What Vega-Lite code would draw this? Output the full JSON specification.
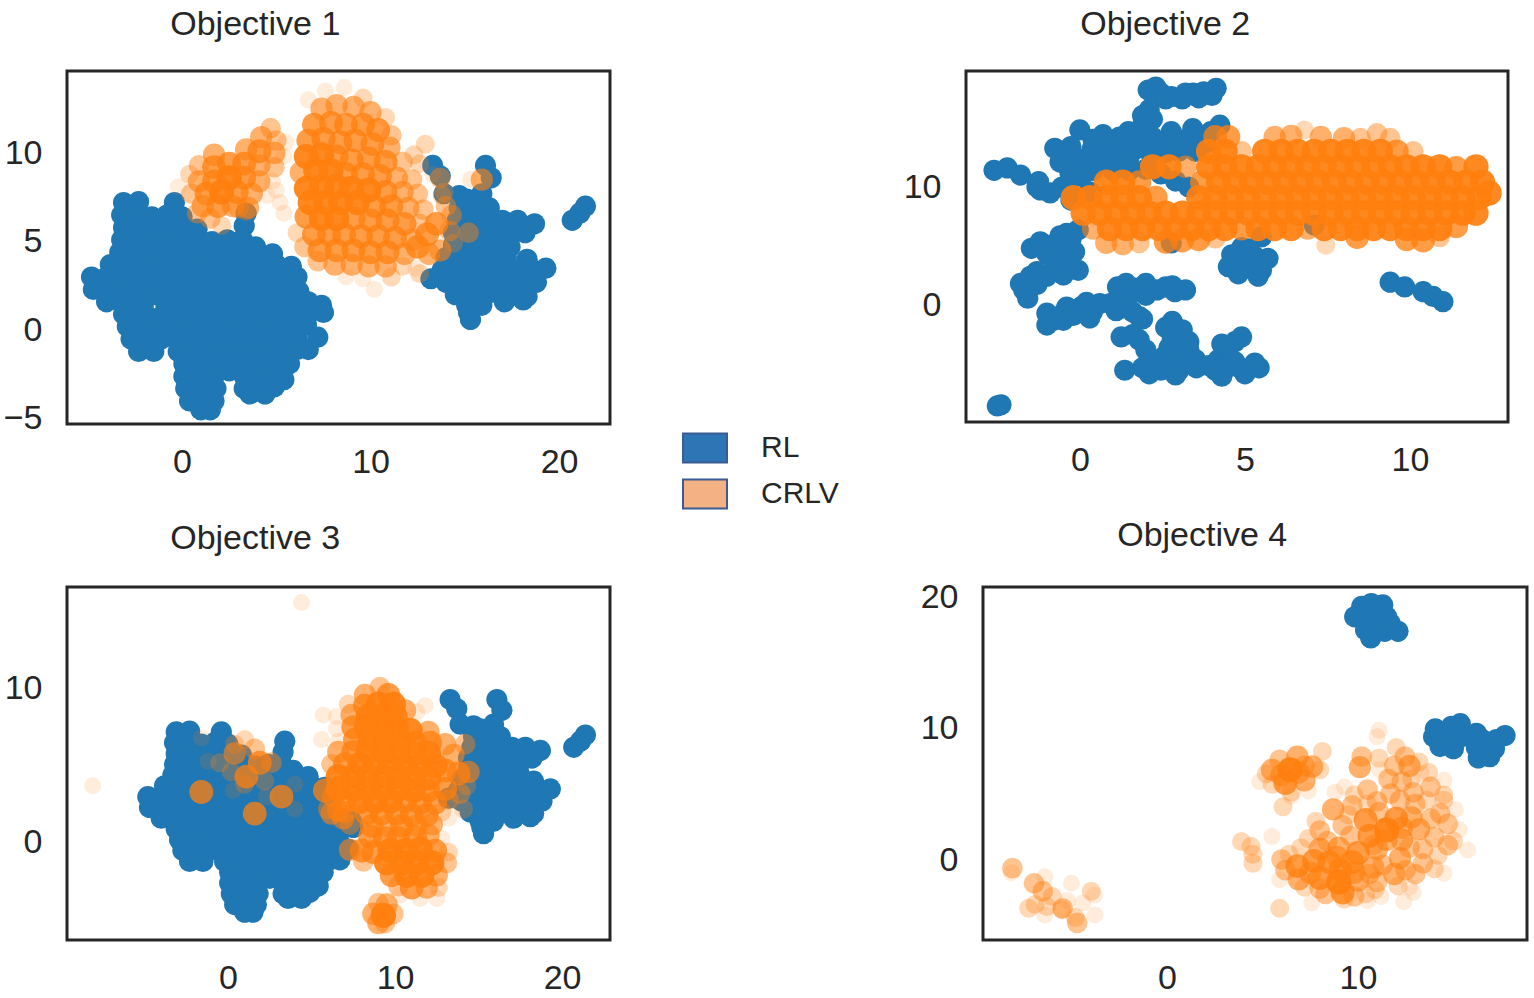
{"$schema":"https://vega.github.io/schema/vega-lite/v6.json","background":"white","padding":{"left":1,"top":6,"right":5,"bottom":5},"bounds":"flush","spacing":516,"config":{"view":{"stroke":"#262626","strokeWidth":3},"font":"Liberation Sans","axis":{"ticks":false,"domain":false,"grid":false,"title":null,"labelFont":"Liberation Sans","labelFontSize":34,"labelColor":"#262626","labelOverlap":false,"labelBound":false,"labelFlush":false},"axisX":{"labelPadding":21},"axisY":{"labelPadding":25},"title":{"font":"Liberation Sans","fontSize":34,"fontWeight":"normal","color":"#262626","anchor":"start","offset":29,"frame":"bounds"},"legend":{"labelFont":"Liberation Sans"}},
"datasets":{
"methods":[{"method":"RL"},{"method":"CRLV"}],
"blueA":[{"x":-3.1,"y":7.2},{"x":-2.3,"y":7.25},{"x":-0.4,"y":7.2},{"x":-3.2,"y":6.5},{"x":-2.4,"y":6.5},{"x":-1.6,"y":6.4},{"x":-0.8,"y":6.5},{"x":0,"y":6.4},{"x":3.4,"y":6.6},{"x":-3.1,"y":5.8},{"x":-2.3,"y":5.8},{"x":-1.5,"y":5.8},{"x":-0.7,"y":5.8},{"x":0.1,"y":5.8},{"x":0.8,"y":5.7},{"x":3.3,"y":5.9},{"x":-3.2,"y":5.1},{"x":-2.4,"y":5.1},{"x":-1.6,"y":5.1},{"x":-0.8,"y":5.1},{"x":0,"y":5.1},{"x":0.8,"y":5.1},{"x":1.6,"y":5},{"x":2.4,"y":5.1},{"x":3.2,"y":5.1},{"x":3.9,"y":4.7},{"x":-3.3,"y":4.4},{"x":-2.5,"y":4.4},{"x":-1.7,"y":4.4},{"x":-0.9,"y":4.4},{"x":-0.1,"y":4.4},{"x":0.7,"y":4.4},{"x":1.5,"y":4.4},{"x":2.3,"y":4.4},{"x":3.1,"y":4.4},{"x":3.9,"y":4.4},{"x":4.8,"y":4.3},{"x":-3.8,"y":3.7},{"x":-3,"y":3.7},{"x":-2.2,"y":3.7},{"x":-1.4,"y":3.7},{"x":-0.6,"y":3.7},{"x":0.2,"y":3.7},{"x":1,"y":3.7},{"x":1.8,"y":3.7},{"x":2.6,"y":3.7},{"x":3.4,"y":3.7},{"x":4.2,"y":3.7},{"x":5,"y":3.7},{"x":5.8,"y":3.6},{"x":-4.8,"y":3},{"x":-4,"y":3},{"x":-3.2,"y":3},{"x":-2.4,"y":3},{"x":-1.6,"y":3},{"x":-0.8,"y":3},{"x":0,"y":3},{"x":0.8,"y":3},{"x":1.6,"y":3},{"x":2.4,"y":3},{"x":3.2,"y":3},{"x":4,"y":3},{"x":4.8,"y":3},{"x":5.6,"y":3},{"x":6.1,"y":3},{"x":-4.7,"y":2.3},{"x":-3.9,"y":2.3},{"x":-3.1,"y":2.3},{"x":-2.3,"y":2.3},{"x":-1.5,"y":2.2},{"x":-0.7,"y":2.3},{"x":0.1,"y":2.3},{"x":0.9,"y":2.3},{"x":1.7,"y":2.3},{"x":2.5,"y":2.3},{"x":3.3,"y":2.3},{"x":4.1,"y":2.3},{"x":4.9,"y":2.3},{"x":5.7,"y":2.3},{"x":6.2,"y":2.2},{"x":-4,"y":1.6},{"x":-3.2,"y":1.6},{"x":-2.4,"y":1.5},{"x":-2.05,"y":1.9},{"x":-0.8,"y":1.9},{"x":-2.1,"y":0.7},{"x":-0.75,"y":0.7},{"x":-2.05,"y":1.3},{"x":-0.85,"y":1.3},{"x":-1.4,"y":0.65},{"x":-1.4,"y":2},{"x":-0.5,"y":1.6},{"x":0.3,"y":1.6},{"x":1.1,"y":1.6},{"x":1.9,"y":1.6},{"x":2.7,"y":1.6},{"x":3.5,"y":1.6},{"x":4.3,"y":1.6},{"x":5.1,"y":1.6},{"x":5.9,"y":1.6},{"x":6.7,"y":1.6},{"x":7.4,"y":1.4},{"x":-3.1,"y":0.9},{"x":-2.4,"y":0.9},{"x":-0.5,"y":0.9},{"x":0.3,"y":0.9},{"x":1.1,"y":0.9},{"x":1.9,"y":0.9},{"x":2.7,"y":0.9},{"x":3.5,"y":0.9},{"x":4.3,"y":0.9},{"x":5.1,"y":0.9},{"x":5.9,"y":0.9},{"x":6.7,"y":0.9},{"x":7.5,"y":1},{"x":-2.9,"y":0.2},{"x":-2.1,"y":0.2},{"x":-1.3,"y":0.4},{"x":-0.5,"y":0.2},{"x":0.3,"y":0.2},{"x":1.1,"y":0.2},{"x":1.9,"y":0.2},{"x":2.7,"y":0.2},{"x":3.5,"y":0.2},{"x":4.3,"y":0.2},{"x":5.1,"y":0.2},{"x":5.9,"y":0.2},{"x":6.6,"y":0.3},{"x":-2.7,"y":-0.5},{"x":-1.9,"y":-0.5},{"x":-1.1,"y":-0.5},{"x":-0.3,"y":-0.5},{"x":0.5,"y":-0.5},{"x":1.3,"y":-0.5},{"x":2.1,"y":-0.5},{"x":2.9,"y":-0.5},{"x":3.7,"y":-0.5},{"x":4.5,"y":-0.5},{"x":5.3,"y":-0.5},{"x":6.1,"y":-0.5},{"x":7.2,"y":-0.4},{"x":-2.3,"y":-1.2},{"x":-1.5,"y":-1.2},{"x":-0.2,"y":-1.2},{"x":0.6,"y":-1.2},{"x":1.4,"y":-1.2},{"x":2.2,"y":-1.2},{"x":3,"y":-1.2},{"x":3.8,"y":-1.2},{"x":4.6,"y":-1.2},{"x":5.4,"y":-1.2},{"x":6.1,"y":-1.1},{"x":6.7,"y":-1.1},{"x":0.1,"y":-1.9},{"x":0.9,"y":-1.9},{"x":1.7,"y":-1.9},{"x":2.5,"y":-1.9},{"x":3.3,"y":-1.9},{"x":4.1,"y":-1.9},{"x":4.9,"y":-1.9},{"x":5.7,"y":-1.9},{"x":0.1,"y":-2.6},{"x":0.9,"y":-2.6},{"x":1.7,"y":-2.6},{"x":2.5,"y":-2.3},{"x":3.3,"y":-2.6},{"x":4.1,"y":-2.6},{"x":4.9,"y":-2.6},{"x":5.4,"y":-2.8},{"x":0.2,"y":-3.3},{"x":1,"y":-3.3},{"x":1.8,"y":-3.3},{"x":3.3,"y":-3.3},{"x":4.1,"y":-3.3},{"x":4.9,"y":-3.2},{"x":0.4,"y":-4},{"x":1.1,"y":-4},{"x":1.7,"y":-4},{"x":3.6,"y":-3.6},{"x":4.4,"y":-3.6},{"x":1,"y":-4.5},{"x":1.5,"y":-4.5},{"x":13.3,"y":9.3},{"x":13.7,"y":8.7},{"x":13.9,"y":7.7},{"x":16.1,"y":9.3},{"x":16.4,"y":8.6},{"x":15.9,"y":7.7},{"x":14.7,"y":7.6},{"x":15.1,"y":7.4},{"x":14.7,"y":6.9},{"x":15.6,"y":6.9},{"x":16.3,"y":6.9},{"x":14.6,"y":6.2},{"x":15.4,"y":6.2},{"x":16.2,"y":6.2},{"x":17,"y":6.2},{"x":17.8,"y":6.2},{"x":18.7,"y":6},{"x":14.4,"y":5.5},{"x":15.2,"y":5.5},{"x":16,"y":5.5},{"x":16.8,"y":5.5},{"x":17.6,"y":5.5},{"x":18.2,"y":5.5},{"x":14.4,"y":4.8},{"x":15.2,"y":4.8},{"x":16,"y":4.8},{"x":16.9,"y":4.8},{"x":17.4,"y":4.7},{"x":14,"y":4.1},{"x":14.8,"y":4.1},{"x":15.6,"y":4.1},{"x":16.4,"y":4.1},{"x":17.2,"y":4.1},{"x":18.3,"y":4},{"x":13.8,"y":3.4},{"x":14.6,"y":3.4},{"x":15.4,"y":3.4},{"x":16.2,"y":3.4},{"x":17,"y":3.4},{"x":17.8,"y":3.4},{"x":18.6,"y":3.4},{"x":19.3,"y":3.5},{"x":13.2,"y":2.9},{"x":14,"y":2.7},{"x":14.8,"y":2.7},{"x":15.6,"y":2.7},{"x":16.4,"y":2.7},{"x":17.2,"y":2.7},{"x":18,"y":2.7},{"x":18.8,"y":2.7},{"x":14.5,"y":2},{"x":15.3,"y":2},{"x":16.1,"y":2},{"x":16.9,"y":2},{"x":17.7,"y":2},{"x":18.3,"y":1.9},{"x":15.1,"y":1.4},{"x":15.9,"y":1.4},{"x":17.1,"y":1.6},{"x":18.1,"y":1.7},{"x":15.3,"y":0.6},{"x":15.2,"y":1},{"x":20.7,"y":6.2},{"x":21.1,"y":6.6},{"x":21.4,"y":7}],
"o1":[{"x":6.7,"y":13,"n":1},{"x":7.6,"y":13.5,"n":1},{"x":8.6,"y":13.7,"n":1},{"x":9.6,"y":13.1,"n":2},{"x":7.4,"y":12.5,"n":4},{"x":8.2,"y":12.7,"n":4},{"x":9.1,"y":12.6,"n":4},{"x":10,"y":12.3,"n":4},{"x":10.8,"y":12,"n":2},{"x":7,"y":11.6,"n":5},{"x":7.9,"y":11.7,"n":5},{"x":8.7,"y":11.6,"n":5},{"x":9.6,"y":11.6,"n":5},{"x":10.4,"y":11.3,"n":5},{"x":11.1,"y":11,"n":3},{"x":6.7,"y":10.7,"n":5},{"x":7.5,"y":10.8,"n":5},{"x":8.4,"y":10.6,"n":5},{"x":9.2,"y":10.7,"n":5},{"x":10.1,"y":10.5,"n":5},{"x":11,"y":10.3,"n":4},{"x":12.9,"y":10.5,"n":2},{"x":12.3,"y":9.9,"n":2},{"x":6.6,"y":9.8,"n":6},{"x":7.4,"y":9.9,"n":6},{"x":8.2,"y":9.8,"n":5},{"x":9,"y":9.6,"n":5},{"x":9.9,"y":9.7,"n":5},{"x":10.8,"y":9.5,"n":5},{"x":11.7,"y":9.5,"n":3},{"x":12.6,"y":9.4,"n":2},{"x":6.3,"y":8.9,"n":4},{"x":7.1,"y":9,"n":6},{"x":7.9,"y":9,"n":6},{"x":8.7,"y":8.8,"n":5},{"x":9.6,"y":8.8,"n":5},{"x":10.5,"y":8.7,"n":5},{"x":11.4,"y":8.6,"n":4},{"x":12.2,"y":8.5,"n":3},{"x":6.6,"y":8,"n":6},{"x":7.4,"y":8.1,"n":6},{"x":8.2,"y":8.1,"n":6},{"x":9,"y":8,"n":6},{"x":9.9,"y":7.9,"n":6},{"x":10.8,"y":7.8,"n":5},{"x":11.7,"y":7.8,"n":4},{"x":12.5,"y":7.7,"n":3},{"x":6.8,"y":7.2,"n":6},{"x":7.6,"y":7.2,"n":6},{"x":8.4,"y":7.2,"n":6},{"x":9.3,"y":7.2,"n":6},{"x":10.2,"y":7,"n":5},{"x":11.1,"y":7,"n":5},{"x":12,"y":6.9,"n":4},{"x":12.8,"y":6.8,"n":3},{"x":6.6,"y":6.4,"n":5},{"x":7.4,"y":6.3,"n":6},{"x":8.2,"y":6.3,"n":6},{"x":9.1,"y":6.3,"n":5},{"x":10,"y":6.2,"n":5},{"x":10.9,"y":6.2,"n":5},{"x":11.8,"y":6,"n":5},{"x":12.6,"y":6,"n":3},{"x":6.1,"y":5.5,"n":2},{"x":7,"y":5.4,"n":5},{"x":7.8,"y":5.4,"n":5},{"x":8.6,"y":5.4,"n":5},{"x":9.5,"y":5.3,"n":5},{"x":10.4,"y":5.3,"n":5},{"x":11.3,"y":5.2,"n":5},{"x":12.2,"y":5.1,"n":4},{"x":6.5,"y":4.7,"n":3},{"x":7.3,"y":4.5,"n":5},{"x":8.2,"y":4.5,"n":5},{"x":9.1,"y":4.5,"n":5},{"x":10,"y":4.4,"n":5},{"x":10.9,"y":4.4,"n":5},{"x":11.8,"y":4.3,"n":4},{"x":7.2,"y":3.9,"n":3},{"x":8.1,"y":3.7,"n":4},{"x":9,"y":3.7,"n":4},{"x":9.9,"y":3.6,"n":4},{"x":10.8,"y":3.6,"n":4},{"x":11.7,"y":3.6,"n":2},{"x":8.7,"y":3,"n":1},{"x":9.6,"y":2.9,"n":1},{"x":10.2,"y":2.3,"n":1},{"x":11.1,"y":3,"n":2},{"x":12.4,"y":3.5,"n":1},{"x":4.7,"y":11.4,"n":3},{"x":4.2,"y":10.9,"n":4},{"x":5,"y":10.7,"n":3},{"x":5.5,"y":10.6,"n":1},{"x":3.4,"y":10.2,"n":4},{"x":4.1,"y":10.1,"n":5},{"x":4.9,"y":10,"n":4},{"x":5.4,"y":9.8,"n":1},{"x":1.7,"y":9.9,"n":4},{"x":0.9,"y":9.3,"n":3},{"x":1.7,"y":9.2,"n":5},{"x":2.5,"y":9.4,"n":5},{"x":3.3,"y":9.4,"n":5},{"x":4.1,"y":9.3,"n":4},{"x":4.9,"y":9.2,"n":3},{"x":0.4,"y":8.8,"n":2},{"x":0.9,"y":8.4,"n":4},{"x":1.7,"y":8.4,"n":5},{"x":2.5,"y":8.6,"n":6},{"x":3.3,"y":8.6,"n":5},{"x":4.1,"y":8.4,"n":4},{"x":4.8,"y":8.4,"n":1},{"x":-0.2,"y":8.1,"n":1},{"x":0.5,"y":7.7,"n":3},{"x":1.3,"y":7.7,"n":5},{"x":2.1,"y":7.8,"n":6},{"x":2.9,"y":7.8,"n":5},{"x":3.7,"y":7.7,"n":4},{"x":4.5,"y":7.6,"n":1},{"x":5.2,"y":7.2,"n":1},{"x":5.4,"y":6.6,"n":1},{"x":5,"y":7.9,"n":1},{"x":1.1,"y":7,"n":4},{"x":1.9,"y":7,"n":5},{"x":2.7,"y":7,"n":4},{"x":3.5,"y":6.9,"n":4},{"x":0.8,"y":6.6,"n":3},{"x":1.5,"y":6.3,"n":3},{"x":2.1,"y":5.9,"n":2},{"x":3.4,"y":6.7,"n":2},{"x":3,"y":6.9,"n":3},{"x":13.7,"y":8.6,"n":3},{"x":13.9,"y":7.8,"n":2},{"x":13.3,"y":8.8,"n":1},{"x":15.9,"y":8.5,"n":4},{"x":15.3,"y":8.5,"n":1},{"x":14,"y":7,"n":3},{"x":14.3,"y":6.5,"n":3},{"x":13.5,"y":6,"n":5},{"x":13,"y":5.4,"n":5},{"x":14.2,"y":5.6,"n":3},{"x":15.2,"y":5.5,"n":3},{"x":12.5,"y":4.7,"n":5},{"x":13.1,"y":4.3,"n":4},{"x":13.7,"y":4.5,"n":4},{"x":12.6,"y":3.2,"n":2},{"x":14.4,"y":4.9,"n":2},{"x":13.8,"y":7.6,"n":2}],
"b2":[{"x":2.07,"y":18.15},{"x":2.45,"y":17.9},{"x":2.77,"y":17.6},{"x":3.1,"y":17.4},{"x":3.43,"y":17.9},{"x":3.75,"y":18},{"x":4.13,"y":18.3},{"x":2.3,"y":18.4},{"x":3.2,"y":17.9},{"x":3.6,"y":17.5},{"x":4,"y":17.7},{"x":2.6,"y":17.4},{"x":2.2,"y":15.7},{"x":2.1,"y":16.5},{"x":1.9,"y":16},{"x":1.9,"y":15.2},{"x":0,"y":14.8},{"x":0.7,"y":14.4},{"x":1.47,"y":14.65},{"x":1.9,"y":14.5},{"x":2.77,"y":14.65},{"x":3.42,"y":14.9},{"x":4.24,"y":15.2},{"x":3.97,"y":14.65},{"x":-0.76,"y":13.25},{"x":-0.27,"y":13.4},{"x":0.38,"y":13.25},{"x":1.03,"y":13.8},{"x":1.8,"y":13.7},{"x":2.5,"y":13.7},{"x":3.1,"y":13.7},{"x":3.8,"y":13.7},{"x":-0.3,"y":12.9},{"x":0.3,"y":12.7},{"x":0.7,"y":13.5},{"x":1.1,"y":12.8},{"x":1.6,"y":13},{"x":2.1,"y":13},{"x":2.6,"y":12.9},{"x":0.4,"y":11.4},{"x":-0.3,"y":11.2},{"x":1.5,"y":11.4},{"x":2,"y":11.5},{"x":0.4,"y":14},{"x":1.2,"y":14.2},{"x":-0.5,"y":12.7},{"x":3.4,"y":14.2},{"x":2.9,"y":14.1},{"x":2.2,"y":14.2},{"x":3.5,"y":13},{"x":3,"y":13},{"x":-1.3,"y":10},{"x":-0.9,"y":9.5},{"x":-0.3,"y":9.5},{"x":-2.6,"y":11.4},{"x":-2.2,"y":11.6},{"x":-1.8,"y":11},{"x":-1.25,"y":10.45},{"x":-0.6,"y":12.1},{"x":0,"y":12},{"x":0.7,"y":12.3},{"x":1.47,"y":12.3},{"x":2.2,"y":12.4},{"x":-1.2,"y":9.75},{"x":-0.54,"y":10},{"x":0.05,"y":10.9},{"x":-0.27,"y":8.9},{"x":0.3,"y":9.6},{"x":1,"y":11.4},{"x":-1.47,"y":4.85},{"x":-0.9,"y":5.1},{"x":-0.27,"y":5.55},{"x":-0.16,"y":4.55},{"x":-0.05,"y":6.4},{"x":-1.2,"y":5.4},{"x":-0.6,"y":5.9},{"x":-0.6,"y":4.6},{"x":-1,"y":4.4},{"x":-0.4,"y":6.1},{"x":-1.3,"y":2.9},{"x":-0.76,"y":3.2},{"x":-0.05,"y":3},{"x":-0.3,"y":3.6},{"x":-0.4,"y":3},{"x":-1,"y":2.5},{"x":-0.5,"y":2.6},{"x":-1.7,"y":1.35},{"x":-1.5,"y":2.5},{"x":-1.58,"y":0.65},{"x":-1.8,"y":1.9},{"x":-1.3,"y":1.8},{"x":-1,"y":-0.6},{"x":-1,"y":-1.6},{"x":-0.5,"y":-0.6},{"x":0.05,"y":-0.05},{"x":0.38,"y":-0.5},{"x":-0.4,"y":-0.1},{"x":-0.5,"y":-1.2},{"x":-0.7,"y":-1},{"x":-0.2,"y":-0.8},{"x":0.2,"y":0.3},{"x":0.6,"y":0.2},{"x":1.1,"y":-0.4},{"x":-0.8,"y":-1.2},{"x":0.3,"y":-1},{"x":1.6,"y":-0.5},{"x":0.92,"y":0.2},{"x":1.36,"y":0},{"x":1.8,"y":-0.9},{"x":1.9,"y":-1.1},{"x":1.14,"y":1.6},{"x":1.68,"y":1.5},{"x":2.34,"y":1.35},{"x":2.88,"y":1.2},{"x":3.2,"y":1.35},{"x":1.5,"y":0.9},{"x":2,"y":0.9},{"x":2.6,"y":1.6},{"x":1.4,"y":1.9},{"x":2,"y":1.9},{"x":2.8,"y":1.7},{"x":1.25,"y":-2.6},{"x":1.8,"y":-2.85},{"x":2,"y":-3.7},{"x":2.88,"y":-2},{"x":3.1,"y":-2.85},{"x":3.3,"y":-3.7},{"x":2.8,"y":-1.3},{"x":1.6,"y":-2.4},{"x":2.8,"y":-2.8},{"x":3.1,"y":-2},{"x":2.6,"y":-1.8},{"x":3.3,"y":-3},{"x":2.7,"y":-3.5},{"x":3.5,"y":-4.5},{"x":1.36,"y":-5.4},{"x":1.9,"y":-5.2},{"x":2.45,"y":-5.4},{"x":3,"y":-5.4},{"x":3.53,"y":-5.2},{"x":4.3,"y":-5.9},{"x":4.2,"y":-4.5},{"x":4.7,"y":-3},{"x":4.4,"y":-3.7},{"x":4.84,"y":-5.2},{"x":5.43,"y":-5.2},{"x":2.55,"y":-4.25},{"x":3.1,"y":-4.5},{"x":3.9,"y":-5},{"x":2.9,"y":-5.8},{"x":2.1,"y":-5.7},{"x":2.2,"y":-4.7},{"x":4.5,"y":-5.1},{"x":4.7,"y":-4.7},{"x":5,"y":-5.7},{"x":5.3,"y":-4.8},{"x":4.9,"y":-2.6},{"x":4.3,"y":-3.2},{"x":4.1,"y":-5.4},{"x":-2.39,"y":-8.3},{"x":-2.5,"y":-8.4},{"x":4.5,"y":3.3},{"x":5.05,"y":3.2},{"x":5.5,"y":3},{"x":4.6,"y":4.3},{"x":5.3,"y":4.15},{"x":4.9,"y":4.9},{"x":5.5,"y":5.8},{"x":4.9,"y":3.4},{"x":5.2,"y":3.6},{"x":4.8,"y":2.7},{"x":5.4,"y":2.5},{"x":5.1,"y":4.8},{"x":5.7,"y":4},{"x":2.77,"y":5.3},{"x":9.4,"y":2},{"x":9.84,"y":1.6},{"x":10.4,"y":1.2},{"x":11,"y":0.36},{"x":10.7,"y":0.8},{"x":2.45,"y":11.1},{"x":3.3,"y":10},{"x":2.9,"y":10.5},{"x":7.1,"y":6.8}],
"o2":[{"x":4.1,"y":14.2,"n":5},{"x":4.5,"y":14.2,"n":5},{"x":5.9,"y":14.2,"n":4},{"x":6.4,"y":14.3,"n":4},{"x":6.8,"y":14.8,"n":2},{"x":7.3,"y":14.2,"n":4},{"x":8,"y":14.1,"n":4},{"x":8.5,"y":14.1,"n":3},{"x":9,"y":14.5,"n":3},{"x":9.4,"y":14.1,"n":3},{"x":3.9,"y":13,"n":6},{"x":4.4,"y":13,"n":6},{"x":4.9,"y":13,"n":3},{"x":5.6,"y":13,"n":6},{"x":6.1,"y":13,"n":6},{"x":6.6,"y":13,"n":6},{"x":7.1,"y":13,"n":6},{"x":7.6,"y":13,"n":6},{"x":8.1,"y":13,"n":6},{"x":8.6,"y":13,"n":6},{"x":9.1,"y":13,"n":6},{"x":9.6,"y":13,"n":5},{"x":10.1,"y":13,"n":3},{"x":2.2,"y":11.7,"n":6},{"x":2.7,"y":11.7,"n":6},{"x":3.2,"y":11.7,"n":4},{"x":3.9,"y":11.7,"n":6},{"x":4.4,"y":11.7,"n":6},{"x":4.9,"y":11.7,"n":6},{"x":5.4,"y":11.7,"n":6},{"x":5.9,"y":11.7,"n":6},{"x":6.4,"y":11.7,"n":6},{"x":6.9,"y":11.7,"n":6},{"x":7.4,"y":11.7,"n":6},{"x":7.9,"y":11.7,"n":6},{"x":8.4,"y":11.7,"n":6},{"x":8.9,"y":11.7,"n":6},{"x":9.4,"y":11.7,"n":6},{"x":9.9,"y":11.7,"n":6},{"x":10.4,"y":11.7,"n":6},{"x":10.9,"y":11.7,"n":6},{"x":11.4,"y":11.6,"n":5},{"x":12,"y":11.7,"n":6},{"x":0.8,"y":10.4,"n":6},{"x":1.3,"y":10.4,"n":6},{"x":1.8,"y":10.4,"n":5},{"x":3.7,"y":10.4,"n":5},{"x":4.2,"y":10.4,"n":6},{"x":4.7,"y":10.4,"n":6},{"x":5.2,"y":10.4,"n":6},{"x":5.7,"y":10.4,"n":6},{"x":6.2,"y":10.4,"n":6},{"x":6.7,"y":10.4,"n":6},{"x":7.2,"y":10.4,"n":6},{"x":7.7,"y":10.4,"n":6},{"x":8.2,"y":10.4,"n":6},{"x":8.7,"y":10.4,"n":6},{"x":9.2,"y":10.4,"n":6},{"x":9.7,"y":10.4,"n":6},{"x":10.2,"y":10.4,"n":6},{"x":10.7,"y":10.4,"n":6},{"x":11.2,"y":10.4,"n":6},{"x":11.7,"y":10.4,"n":6},{"x":12.2,"y":10.4,"n":6},{"x":-0.2,"y":9.1,"n":6},{"x":0.3,"y":9.1,"n":6},{"x":0.8,"y":9.1,"n":6},{"x":1.3,"y":9.1,"n":6},{"x":1.8,"y":9.1,"n":6},{"x":2.3,"y":9.1,"n":5},{"x":3.6,"y":9.1,"n":6},{"x":4.1,"y":9.1,"n":6},{"x":4.6,"y":9.1,"n":6},{"x":5.1,"y":9.1,"n":6},{"x":5.6,"y":9.1,"n":6},{"x":6.1,"y":9.1,"n":6},{"x":6.6,"y":9.1,"n":6},{"x":7.1,"y":9.1,"n":6},{"x":7.6,"y":9.1,"n":6},{"x":8.1,"y":9.1,"n":6},{"x":8.6,"y":9.1,"n":6},{"x":9.1,"y":9.1,"n":6},{"x":9.6,"y":9.1,"n":6},{"x":10.1,"y":9.1,"n":6},{"x":10.6,"y":9.1,"n":6},{"x":11.1,"y":9.1,"n":6},{"x":11.6,"y":9.1,"n":6},{"x":12.1,"y":9.1,"n":6},{"x":12.4,"y":9.5,"n":6},{"x":0.1,"y":7.8,"n":6},{"x":0.6,"y":7.8,"n":6},{"x":1.1,"y":7.8,"n":6},{"x":1.6,"y":7.8,"n":6},{"x":2.1,"y":7.8,"n":6},{"x":2.6,"y":7.8,"n":6},{"x":3.1,"y":7.8,"n":6},{"x":3.6,"y":7.8,"n":6},{"x":4.1,"y":7.8,"n":6},{"x":4.6,"y":7.8,"n":6},{"x":5.1,"y":7.8,"n":6},{"x":5.6,"y":7.8,"n":6},{"x":6.1,"y":7.8,"n":6},{"x":6.6,"y":7.8,"n":6},{"x":7.1,"y":7.8,"n":6},{"x":7.6,"y":7.8,"n":6},{"x":8.1,"y":7.8,"n":6},{"x":8.6,"y":7.8,"n":6},{"x":9.1,"y":7.8,"n":6},{"x":9.6,"y":7.8,"n":6},{"x":10.1,"y":7.8,"n":6},{"x":10.6,"y":7.8,"n":6},{"x":11.1,"y":7.8,"n":6},{"x":11.6,"y":7.8,"n":6},{"x":12,"y":7.8,"n":6},{"x":0.4,"y":6.5,"n":4},{"x":0.9,"y":6.5,"n":6},{"x":1.4,"y":6.5,"n":6},{"x":1.9,"y":6.5,"n":6},{"x":2.4,"y":6.5,"n":6},{"x":2.9,"y":6.5,"n":6},{"x":3.4,"y":6.5,"n":6},{"x":3.9,"y":6.5,"n":6},{"x":4.4,"y":6.5,"n":6},{"x":4.9,"y":6.5,"n":5},{"x":5.4,"y":6.5,"n":6},{"x":5.9,"y":6.5,"n":6},{"x":6.4,"y":6.5,"n":6},{"x":6.9,"y":6.5,"n":4},{"x":7.4,"y":6.5,"n":6},{"x":7.9,"y":6.5,"n":6},{"x":8.4,"y":6.5,"n":6},{"x":8.9,"y":6.5,"n":6},{"x":9.4,"y":6.5,"n":6},{"x":9.9,"y":6.5,"n":6},{"x":10.4,"y":6.5,"n":6},{"x":10.9,"y":6.5,"n":6},{"x":11.4,"y":6.7,"n":5},{"x":0.8,"y":5.3,"n":4},{"x":1.3,"y":5.2,"n":4},{"x":1.8,"y":5.3,"n":3},{"x":2.6,"y":5.4,"n":5},{"x":3.1,"y":5.5,"n":5},{"x":3.6,"y":5.6,"n":5},{"x":4.1,"y":5.7,"n":3},{"x":7.45,"y":5.1,"n":2},{"x":8.4,"y":5.8,"n":5},{"x":9.9,"y":5.6,"n":5},{"x":10.4,"y":5.5,"n":5},{"x":10.9,"y":5.8,"n":3}],
"o3":[{"x":-8.1,"y":3.7,"n":1},{"x":4.4,"y":15.6,"n":1},{"x":5.7,"y":8.3,"n":1},{"x":5.6,"y":6.7,"n":1},{"x":11.8,"y":8.9,"n":1},{"x":11.3,"y":8.5,"n":1},{"x":9.1,"y":10.1,"n":3},{"x":8.2,"y":9.6,"n":4},{"x":9.6,"y":9.6,"n":5},{"x":7.2,"y":9,"n":2},{"x":8.2,"y":8.9,"n":5},{"x":9,"y":9,"n":6},{"x":9.9,"y":9,"n":6},{"x":10.6,"y":8.6,"n":4},{"x":6.5,"y":8.2,"n":1},{"x":7.4,"y":8.3,"n":4},{"x":8.4,"y":8.2,"n":6},{"x":9.2,"y":8.2,"n":6},{"x":10,"y":8.2,"n":6},{"x":6.5,"y":7.4,"n":1},{"x":7.5,"y":7.5,"n":5},{"x":8.3,"y":7.5,"n":6},{"x":9.2,"y":7.4,"n":6},{"x":10.1,"y":7.4,"n":6},{"x":10.9,"y":7.3,"n":6},{"x":12,"y":7.2,"n":4},{"x":6.6,"y":6.6,"n":1},{"x":7.6,"y":6.7,"n":5},{"x":8.5,"y":6.7,"n":6},{"x":9.4,"y":6.6,"n":6},{"x":10.3,"y":6.6,"n":6},{"x":11.2,"y":6.5,"n":5},{"x":12.1,"y":6.5,"n":5},{"x":13,"y":6.4,"n":4},{"x":6.6,"y":5.9,"n":4},{"x":7.5,"y":5.9,"n":5},{"x":8.4,"y":5.9,"n":6},{"x":9.3,"y":5.9,"n":6},{"x":10.2,"y":5.8,"n":6},{"x":11.1,"y":5.8,"n":6},{"x":12,"y":5.8,"n":6},{"x":6.2,"y":5.1,"n":3},{"x":7,"y":5.1,"n":5},{"x":7.9,"y":5.1,"n":6},{"x":8.8,"y":5.1,"n":6},{"x":9.7,"y":5.1,"n":6},{"x":10.6,"y":5,"n":6},{"x":11.5,"y":5,"n":6},{"x":12.4,"y":5,"n":6},{"x":6.6,"y":4.3,"n":6},{"x":7.5,"y":4.3,"n":6},{"x":8.4,"y":4.3,"n":6},{"x":9.3,"y":4.3,"n":6},{"x":10.2,"y":4.3,"n":6},{"x":11.1,"y":4.2,"n":6},{"x":12,"y":4.2,"n":6},{"x":6.6,"y":3.5,"n":6},{"x":7.5,"y":3.5,"n":6},{"x":8.4,"y":3.5,"n":6},{"x":9.3,"y":3.5,"n":6},{"x":10.2,"y":3.5,"n":6},{"x":11.1,"y":3.4,"n":6},{"x":12,"y":3.4,"n":5},{"x":7,"y":2.7,"n":5},{"x":7.9,"y":2.7,"n":6},{"x":8.8,"y":2.7,"n":6},{"x":9.7,"y":2.7,"n":6},{"x":10.6,"y":2.7,"n":5},{"x":11.5,"y":2.6,"n":5},{"x":12.4,"y":2.6,"n":5},{"x":8.3,"y":1.9,"n":5},{"x":9.2,"y":1.9,"n":5},{"x":10.1,"y":1.9,"n":5},{"x":11,"y":1.8,"n":5},{"x":11.9,"y":1.8,"n":5},{"x":12.8,"y":2,"n":2},{"x":8.6,"y":1.1,"n":5},{"x":9.5,"y":1.1,"n":4},{"x":10.4,"y":1.1,"n":5},{"x":11.3,"y":1.1,"n":4},{"x":12.2,"y":1.2,"n":4},{"x":13.2,"y":1.6,"n":1},{"x":8.5,"y":0.4,"n":5},{"x":9.4,"y":0.3,"n":5},{"x":10.2,"y":0.3,"n":5},{"x":11.2,"y":0.4,"n":5},{"x":12,"y":0.5,"n":4},{"x":12.8,"y":0.3,"n":1},{"x":8,"y":-0.5,"n":5},{"x":8.7,"y":-0.6,"n":5},{"x":9.7,"y":-0.5,"n":6},{"x":10.6,"y":-0.5,"n":6},{"x":11.5,"y":-0.4,"n":6},{"x":12.4,"y":-0.5,"n":5},{"x":13.2,"y":-0.6,"n":2},{"x":8.1,"y":-1.2,"n":3},{"x":9.5,"y":-1.3,"n":6},{"x":10.4,"y":-1.3,"n":6},{"x":11.3,"y":-1.3,"n":6},{"x":12.2,"y":-1.3,"n":6},{"x":13.1,"y":-1.3,"n":3},{"x":9.8,"y":-2.1,"n":5},{"x":10.7,"y":-2.1,"n":6},{"x":11.6,"y":-2.1,"n":6},{"x":12.5,"y":-2.1,"n":4},{"x":10.2,"y":-2.8,"n":3},{"x":11,"y":-2.9,"n":5},{"x":11.9,"y":-2.9,"n":4},{"x":12.6,"y":-2.9,"n":2},{"x":10.3,"y":-3.4,"n":1},{"x":11.5,"y":-3.6,"n":1},{"x":12.5,"y":-3.6,"n":1},{"x":9,"y":-3.9,"n":3},{"x":9.5,"y":-4,"n":4},{"x":8.7,"y":-4.6,"n":4},{"x":9.3,"y":-4.7,"n":6},{"x":9.9,"y":-4.6,"n":3},{"x":9,"y":-5.2,"n":4},{"x":9.4,"y":-5.2,"n":3},{"x":-1.6,"y":6.8,"n":1},{"x":-1.2,"y":5.3,"n":1},{"x":-1.6,"y":3.3,"n":5},{"x":1.6,"y":1.9,"n":5},{"x":3.2,"y":3,"n":5},{"x":0.4,"y":6.4,"n":2},{"x":0.4,"y":5.8,"n":4},{"x":1,"y":6.7,"n":2},{"x":1.6,"y":6.1,"n":3},{"x":1.9,"y":5.2,"n":5},{"x":2.6,"y":5.2,"n":3},{"x":1.1,"y":4.3,"n":5},{"x":-0.5,"y":5.2,"n":2},{"x":0.2,"y":4.6,"n":2},{"x":0.3,"y":3.4,"n":1},{"x":1,"y":3.8,"n":2},{"x":2.2,"y":4,"n":2},{"x":4,"y":3.8,"n":1},{"x":4,"y":2.2,"n":1},{"x":2.3,"y":3,"n":1},{"x":5.8,"y":3.4,"n":5},{"x":6,"y":2.2,"n":3},{"x":6.2,"y":1.9,"n":4},{"x":6.9,"y":1.6,"n":4},{"x":7.3,"y":1.2,"n":3},{"x":7.3,"y":-0.45,"n":4},{"x":6.3,"y":3,"n":4},{"x":6.6,"y":2.1,"n":4},{"x":7,"y":2,"n":4},{"x":13,"y":4.7,"n":5},{"x":13.5,"y":5.7,"n":4},{"x":14.2,"y":6.4,"n":3},{"x":13,"y":3.5,"n":5},{"x":14.4,"y":4.6,"n":4},{"x":13.8,"y":4.5,"n":5},{"x":14.1,"y":2.2,"n":2},{"x":13.9,"y":3.2,"n":3},{"x":14.3,"y":3.7,"n":2},{"x":13.2,"y":2.8,"n":3}],
"b4":[{"x":10.2,"y":19.3},{"x":11.3,"y":19.4},{"x":10.7,"y":19.5},{"x":9.83,"y":18.5},{"x":10.77,"y":18.5},{"x":11.5,"y":18.5},{"x":10.3,"y":18.4},{"x":10.4,"y":17.5},{"x":10.67,"y":16.9},{"x":11.4,"y":17.4},{"x":12.1,"y":17.4},{"x":11.7,"y":18},{"x":11,"y":17.6},{"x":14.05,"y":10},{"x":13.96,"y":9.4},{"x":14.3,"y":8.66},{"x":14.9,"y":10.2},{"x":15.36,"y":10.4},{"x":15,"y":8.5},{"x":15.4,"y":9.4},{"x":14.7,"y":9.3},{"x":16.2,"y":9.67},{"x":16.5,"y":9.2},{"x":16.3,"y":7.8},{"x":16.9,"y":7.9},{"x":17.15,"y":8.5},{"x":17.7,"y":9.5},{"x":17.25,"y":9.2},{"x":16.2,"y":8.6}],
"o4":[{"x":-8.09,"y":-0.55,"n":3},{"x":-8.15,"y":-0.9,"n":1},{"x":-6.96,"y":-1.7,"n":3},{"x":-6.4,"y":-1.2,"n":1},{"x":-6.5,"y":-2.3,"n":3},{"x":-7.24,"y":-3.6,"n":2},{"x":-6.3,"y":-3.46,"n":2},{"x":-6.4,"y":-4.1,"n":1},{"x":-5.46,"y":-3.6,"n":3},{"x":-4.7,"y":-4.7,"n":3},{"x":-5,"y":-1.7,"n":1},{"x":-3.96,"y":-2.3,"n":2},{"x":-3.8,"y":-2.6,"n":1},{"x":-3.77,"y":-4.1,"n":1},{"x":-5.2,"y":-3,"n":1},{"x":-4.4,"y":-3.2,"n":1},{"x":-6,"y":-2.7,"n":2},{"x":-5.5,"y":-3.7,"n":2},{"x":-6.9,"y":-3.3,"n":2},{"x":-4.8,"y":-4.3,"n":2},{"x":6.45,"y":6.9,"n":6},{"x":5.5,"y":6.9,"n":4},{"x":6.2,"y":5.9,"n":5},{"x":8.14,"y":8.3,"n":2},{"x":4.86,"y":6,"n":1},{"x":7.6,"y":7.15,"n":4},{"x":6.83,"y":7.9,"n":4},{"x":5.9,"y":7.65,"n":3},{"x":7.2,"y":6.1,"n":4},{"x":6.08,"y":4.1,"n":2},{"x":6.5,"y":4.9,"n":1},{"x":8,"y":6.9,"n":2},{"x":3.9,"y":1.46,"n":2},{"x":4.4,"y":1.1,"n":2},{"x":5.5,"y":1.84,"n":1},{"x":4.5,"y":-0.18,"n":2},{"x":4.5,"y":0.5,"n":2},{"x":11.5,"y":2.35,"n":6},{"x":9.08,"y":-0.7,"n":5},{"x":6.83,"y":-0.4,"n":5},{"x":11.1,"y":9.9,"n":1},{"x":11,"y":9.4,"n":1},{"x":10.2,"y":7.9,"n":3},{"x":10.1,"y":7.1,"n":4},{"x":12.46,"y":7.9,"n":3},{"x":12.7,"y":7.2,"n":4},{"x":11.14,"y":6.9,"n":1},{"x":11.6,"y":6.2,"n":3},{"x":12.3,"y":6,"n":3},{"x":13.8,"y":5.6,"n":3},{"x":13.3,"y":6.6,"n":1},{"x":14.5,"y":6.1,"n":1},{"x":10.5,"y":5.4,"n":3},{"x":9.3,"y":5.6,"n":1},{"x":8.7,"y":3.9,"n":4},{"x":9.7,"y":4.2,"n":3},{"x":11,"y":4.5,"n":3},{"x":12.2,"y":4.6,"n":3},{"x":13,"y":4.3,"n":3},{"x":14.3,"y":3.6,"n":3},{"x":15.1,"y":3.9,"n":1},{"x":15.3,"y":2.35,"n":1},{"x":15.74,"y":0.83,"n":1},{"x":14.5,"y":-0.93,"n":1},{"x":8,"y":2.3,"n":3},{"x":9.2,"y":2.7,"n":3},{"x":10.4,"y":3.1,"n":5},{"x":10.6,"y":1.9,"n":5},{"x":12,"y":3.2,"n":5},{"x":12.3,"y":1.6,"n":4},{"x":13.2,"y":2.4,"n":4},{"x":14,"y":1.8,"n":3},{"x":14.7,"y":1.2,"n":3},{"x":13.4,"y":0.9,"n":3},{"x":7,"y":1,"n":2},{"x":8,"y":0.9,"n":4},{"x":9,"y":1,"n":4},{"x":10,"y":0.6,"n":5},{"x":11,"y":0.9,"n":4},{"x":12.2,"y":0.2,"n":4},{"x":13.4,"y":-0.2,"n":3},{"x":6,"y":0.1,"n":3},{"x":7.7,"y":0,"n":5},{"x":8.5,"y":-0.1,"n":5},{"x":9.7,"y":-0.1,"n":5},{"x":10.8,"y":-0.5,"n":4},{"x":11.9,"y":-1,"n":4},{"x":13,"y":-1,"n":3},{"x":5.9,"y":-1.44,"n":1},{"x":6.9,"y":-1.4,"n":4},{"x":8,"y":-1.3,"n":5},{"x":9,"y":-1.6,"n":6},{"x":10,"y":-1.5,"n":4},{"x":11,"y":-1.6,"n":3},{"x":9.2,"y":-2.4,"n":5},{"x":8.3,"y":-2.5,"n":3},{"x":10.4,"y":-2.5,"n":2},{"x":12.7,"y":-2,"n":1},{"x":5.9,"y":-3.6,"n":2},{"x":7.58,"y":-3.2,"n":1},{"x":9.27,"y":-2.9,"n":2},{"x":10.5,"y":-3,"n":1},{"x":12.4,"y":-3.1,"n":1},{"x":12.9,"y":-2.4,"n":1},{"x":9.5,"y":3.5,"n":2},{"x":10.5,"y":4.3,"n":2},{"x":11.7,"y":5.1,"n":3},{"x":12.9,"y":5.2,"n":3},{"x":13.6,"y":4.6,"n":2},{"x":14.5,"y":4.6,"n":2},{"x":14.7,"y":2.8,"n":3},{"x":13.8,"y":3.2,"n":3},{"x":11.1,"y":3.7,"n":3},{"x":12.8,"y":3.3,"n":4},{"x":9.6,"y":1.9,"n":3},{"x":8.4,"y":1.5,"n":3},{"x":7.4,"y":1.7,"n":2},{"x":7.8,"y":3,"n":2},{"x":9.8,"y":5,"n":2},{"x":8.8,"y":5.2,"n":1},{"x":11.9,"y":7.2,"n":3},{"x":11.1,"y":7.8,"n":2},{"x":12,"y":8.6,"n":2},{"x":13.2,"y":7.5,"n":2},{"x":13.7,"y":6.7,"n":2},{"x":12.8,"y":6.2,"n":2},{"x":14.5,"y":5,"n":2},{"x":15,"y":1.5,"n":2},{"x":14.2,"y":0.4,"n":2},{"x":14,"y":-0.6,"n":2},{"x":12.5,"y":-0.7,"n":3},{"x":11.3,"y":-0.3,"n":3},{"x":12.7,"y":1,"n":3},{"x":10.8,"y":1.2,"n":3},{"x":11.5,"y":1.6,"n":4},{"x":12.3,"y":2.5,"n":4},{"x":9.8,"y":-0.9,"n":4},{"x":10.6,"y":-1,"n":3},{"x":8.9,"y":0.3,"n":4},{"x":7.5,"y":-0.9,"n":4},{"x":6.2,"y":-0.7,"n":3},{"x":6.4,"y":0.5,"n":2},{"x":12.1,"y":-1.9,"n":2},{"x":10.9,"y":-2.2,"n":2},{"x":8,"y":-2.1,"n":3},{"x":7.2,"y":-2,"n":2},{"x":9.8,"y":-2.7,"n":3},{"x":11.2,"y":-2.7,"n":1},{"x":6.5,"y":5.2,"n":2},{"x":7.4,"y":5.3,"n":1},{"x":5.5,"y":5.8,"n":2},{"x":5.2,"y":6.6,"n":2},{"x":6.9,"y":6.7,"n":4},{"x":7.2,"y":7.2,"n":3},{"x":6,"y":6.5,"n":4}]},
"vconcat":[{"bounds":"flush","spacing":356,"hconcat":[
{"width":543,"height":353,"title":{"text":"Objective 1","dx":167},"layer":[
{"data":{"name":"blueA"},"mark":{"type":"circle","size":450,"opacity":1},"encoding":{"x":{"field":"x","type":"quantitative","scale":{"domain":[-6.1,22.7],"nice":false,"zero":false},"axis":{"values":[0,10,20]}},"y":{"field":"y","type":"quantitative","scale":{"domain":[-5.3,14.63],"nice":false,"zero":false},"axis":{"values":[-5,0,5,10]}},"color":{"datum":"RL","type":"nominal","scale":{"domain":["CRLV","RL"],"range":["#ff7f0e","#1f77b4"]},"legend":null}}},
{"data":{"name":"o1"},"mark":{"type":"circle"},"encoding":{"x":{"field":"x","type":"quantitative"},"y":{"field":"y","type":"quantitative"},"color":{"datum":"CRLV","type":"nominal"},"opacity":{"field":"n","type":"quantitative","scale":{"domain":[1,6],"range":[0.15,0.92]},"legend":null},"size":{"field":"n","type":"quantitative","scale":{"domain":[1,6],"range":[290,640]},"legend":null}}},
{"data":{"name":"methods"},"mark":{"type":"square","filled":true,"fillOpacity":0,"strokeOpacity":0,"size":1},"encoding":{"fill":{"field":"method","type":"nominal","scale":{"domain":["RL","CRLV"],"range":["#2e75b6","#f4b183"]},"legend":{"orient":"none","legendX":615,"legendY":354,"title":null,"padding":0,"symbolType":"M-1,-0.66H1V0.66H-1Z","symbolSize":1936,"symbolOpacity":1,"symbolStrokeColor":"#3b5b92","symbolStrokeWidth":2,"labelFontSize":30,"labelColor":"#262626","labelOffset":33,"rowPadding":4,"encoding":{"symbols":{"stroke":{"value":"#3b5b92"},"strokeWidth":{"value":2},"opacity":{"value":1},"fillOpacity":{"value":1}}}}}}}]},
{"width":542,"height":351,"title":{"text":"Objective 2","dx":177},"layer":[
{"data":{"name":"b2"},"mark":{"type":"circle","size":450,"opacity":1},"encoding":{"x":{"field":"x","type":"quantitative","scale":{"domain":[-3.45,12.97],"nice":false,"zero":false},"axis":{"values":[0,5,10]}},"y":{"field":"y","type":"quantitative","scale":{"domain":[-9.75,19.75],"nice":false,"zero":false},"axis":{"values":[0,10]}},"color":{"datum":"RL","type":"nominal","scale":{"domain":["RL","CRLV"],"range":["#1f77b4","#ff7f0e"]},"legend":null}}},
{"data":{"name":"o2"},"mark":{"type":"circle"},"encoding":{"x":{"field":"x","type":"quantitative"},"y":{"field":"y","type":"quantitative"},"color":{"datum":"CRLV","type":"nominal"},"opacity":{"field":"n","type":"quantitative","scale":{"domain":[1,6],"range":[0.15,0.92]},"legend":null},"size":{"field":"n","type":"quantitative","scale":{"domain":[1,6],"range":[290,640]},"legend":null}}}]}]},
{"bounds":"flush","spacing":373,"hconcat":[
{"width":543,"height":353,"title":{"text":"Objective 3","dx":166,"offset":31},"layer":[
{"data":{"name":"blueA"},"mark":{"type":"circle","size":450,"opacity":1},"encoding":{"x":{"field":"x","type":"quantitative","scale":{"domain":[-9.64,22.87],"nice":false,"zero":false},"axis":{"values":[0,10,20]}},"y":{"field":"y","type":"quantitative","scale":{"domain":[-6.3,16.6],"nice":false,"zero":false},"axis":{"values":[0,10]}},"color":{"datum":"RL","type":"nominal","scale":{"domain":["RL","CRLV"],"range":["#1f77b4","#ff7f0e"]},"legend":null}}},
{"data":{"name":"o3"},"mark":{"type":"circle"},"encoding":{"x":{"field":"x","type":"quantitative"},"y":{"field":"y","type":"quantitative"},"color":{"datum":"CRLV","type":"nominal"},"opacity":{"field":"n","type":"quantitative","scale":{"domain":[1,6],"range":[0.15,0.92]},"legend":null},"size":{"field":"n","type":"quantitative","scale":{"domain":[1,6],"range":[290,640]},"legend":null}}}]},
{"width":544,"height":353,"title":{"text":"Objective 4","dx":197,"offset":27},"layer":[
{"data":{"name":"b4"},"mark":{"type":"circle","size":450,"opacity":1},"encoding":{"x":{"field":"x","type":"quantitative","scale":{"domain":[-9.63,18.85],"nice":false,"zero":false},"axis":{"values":[0,10]}},"y":{"field":"y","type":"quantitative","scale":{"domain":[-6,20.76],"nice":false,"zero":false},"axis":{"values":[0,10,20]}},"color":{"datum":"RL","type":"nominal","scale":{"domain":["RL","CRLV"],"range":["#1f77b4","#ff7f0e"]},"legend":null}}},
{"data":{"name":"o4"},"mark":{"type":"circle"},"encoding":{"x":{"field":"x","type":"quantitative"},"y":{"field":"y","type":"quantitative"},"color":{"datum":"CRLV","type":"nominal"},"opacity":{"field":"n","type":"quantitative","scale":{"domain":[1,6],"range":[0.15,0.92]},"legend":null},"size":{"field":"n","type":"quantitative","scale":{"domain":[1,6],"range":[290,640]},"legend":null}}}]}]}]}
